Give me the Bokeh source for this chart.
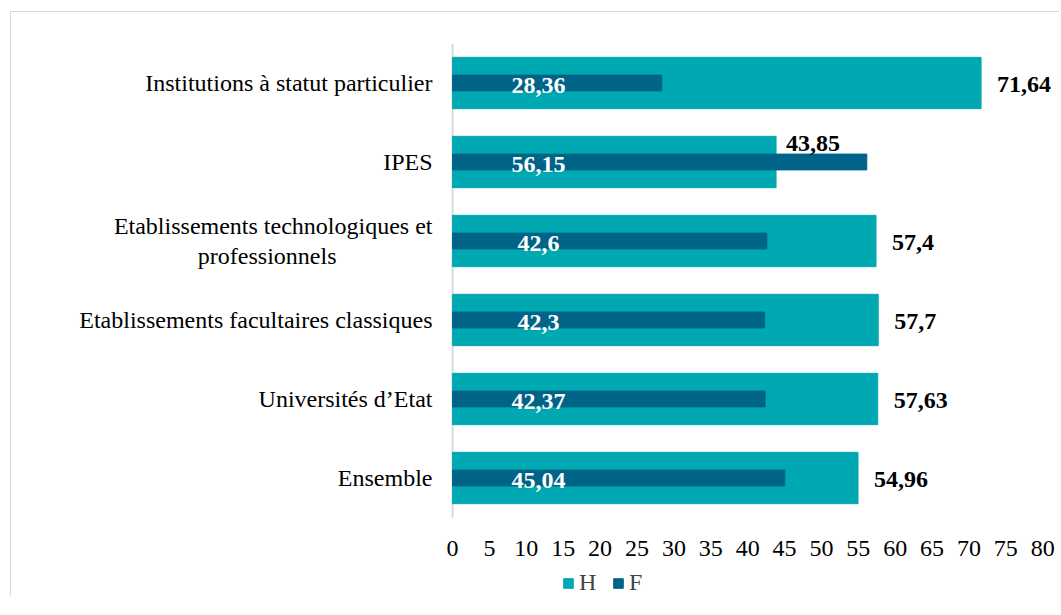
from bokeh.plotting import figure
from bokeh.models import FactorRange, Range1d, Legend, LegendItem, ColumnDataSource
from bokeh.core.properties import value
from bokeh.embed import file_html
from bokeh.resources import INLINE

categories = [
    "Ensemble",
    "Universités d’Etat",
    "Etablissements facultaires classiques",
    "Etablissements technologiques et\nprofessionnels" + "\u00a0" * 16,
    "IPES",
    "Institutions à statut particulier",
]
H = [54.96, 57.63, 57.7, 57.4, 43.85, 71.64]
F = [45.04, 42.37, 42.3, 42.6, 56.15, 28.36]
x_ticks = list(range(0, 85, 5))

TEAL = "#00A9B1"
DARK = "#006489"
FONT = "Liberation Serif"
AXIS_ROW = " "  # spare row under the bars that holds tick labels and legend

def fmt(v):
    return f"{v:g}".replace(".", ",")

src = ColumnDataSource(dict(
    cat=categories, H=H, F=F,
    h_lab=[fmt(v) for v in H], f_lab=[fmt(v) for v in F],
    h_off=[-19 if f > h else 1 for h, f in zip(H, F)],
    h_xoff=[10 if f > h else 16 for h, f in zip(H, F)],
    zero=[0] * len(H),
))

p = figure(frame_width=616, frame_height=553, y_range=FactorRange(AXIS_ROW, *categories),
           x_range=Range1d(-1.5, 82),
           output_backend="svg", toolbar_location=None,
           min_border_left=430, min_border_right=2, min_border_top=31, min_border_bottom=0)
p.styles = {"margin-left": "10px", "margin-top": "11px",
            "border-left": "1px solid #d9d9d9", "border-top": "1px solid #d9d9d9"}

# vertical axis line spanning the category bands only
p.segment(x0=[0], x1=[0], y0=[(categories[0], -0.5)], y1=[(categories[-1], 0.5)],
          line_color="#d9d9d9", line_width=2)

rh = p.hbar(y="cat", right="H", left=0, height=0.65, color=TEAL, source=src)
rf = p.hbar(y="cat", right="F", left=0, height=0.2, color=DARK, source=src)

p.text(x="H", y="cat", text="h_lab", x_offset="h_xoff", y_offset="h_off", source=src,
       text_align="left", text_baseline="middle", text_font=value(FONT),
       text_font_size="24px", text_font_style="bold", text_color="black")
p.text(x="zero", y="cat", text="f_lab", x_offset=86, y_offset=2, source=src,
       text_align="center", text_baseline="middle", text_font=value(FONT),
       text_font_size="24px", text_font_style="bold", text_color="white")

# x tick labels
p.text(x=x_ticks, y=[AXIS_ROW] * len(x_ticks), text=[str(t) for t in x_ticks],
       y_offset=-9, text_align="center", text_baseline="middle", text_font=value(FONT),
       text_font_size="24px", text_color="black")

p.xgrid.visible = False
p.ygrid.visible = False
p.outline_line_color = None
p.xaxis.visible = False

p.yaxis.axis_line_color = None
p.yaxis.major_tick_line_color = None
p.yaxis.minor_tick_line_color = None
p.yaxis.major_tick_out = 0
p.yaxis.major_label_standoff = 9
p.yaxis.major_label_text_font = FONT
p.yaxis.major_label_text_font_size = "24px"
p.yaxis.major_label_text_color = "black"
p.yaxis.major_label_text_line_height = 1.15

legend = Legend(items=[LegendItem(label="H", renderers=[rh]), LegendItem(label="F", renderers=[rf])],
                orientation="horizontal", location=(121, 0),
                glyph_width=12, glyph_height=12, label_text_font=FONT, label_text_font_size="24px",
                label_standoff=5, spacing=13, padding=0, margin=0, border_line_color=None,
                background_fill_alpha=0)
p.add_layout(legend, "center")

open("out.html", "w").write(file_html(p, INLINE))
